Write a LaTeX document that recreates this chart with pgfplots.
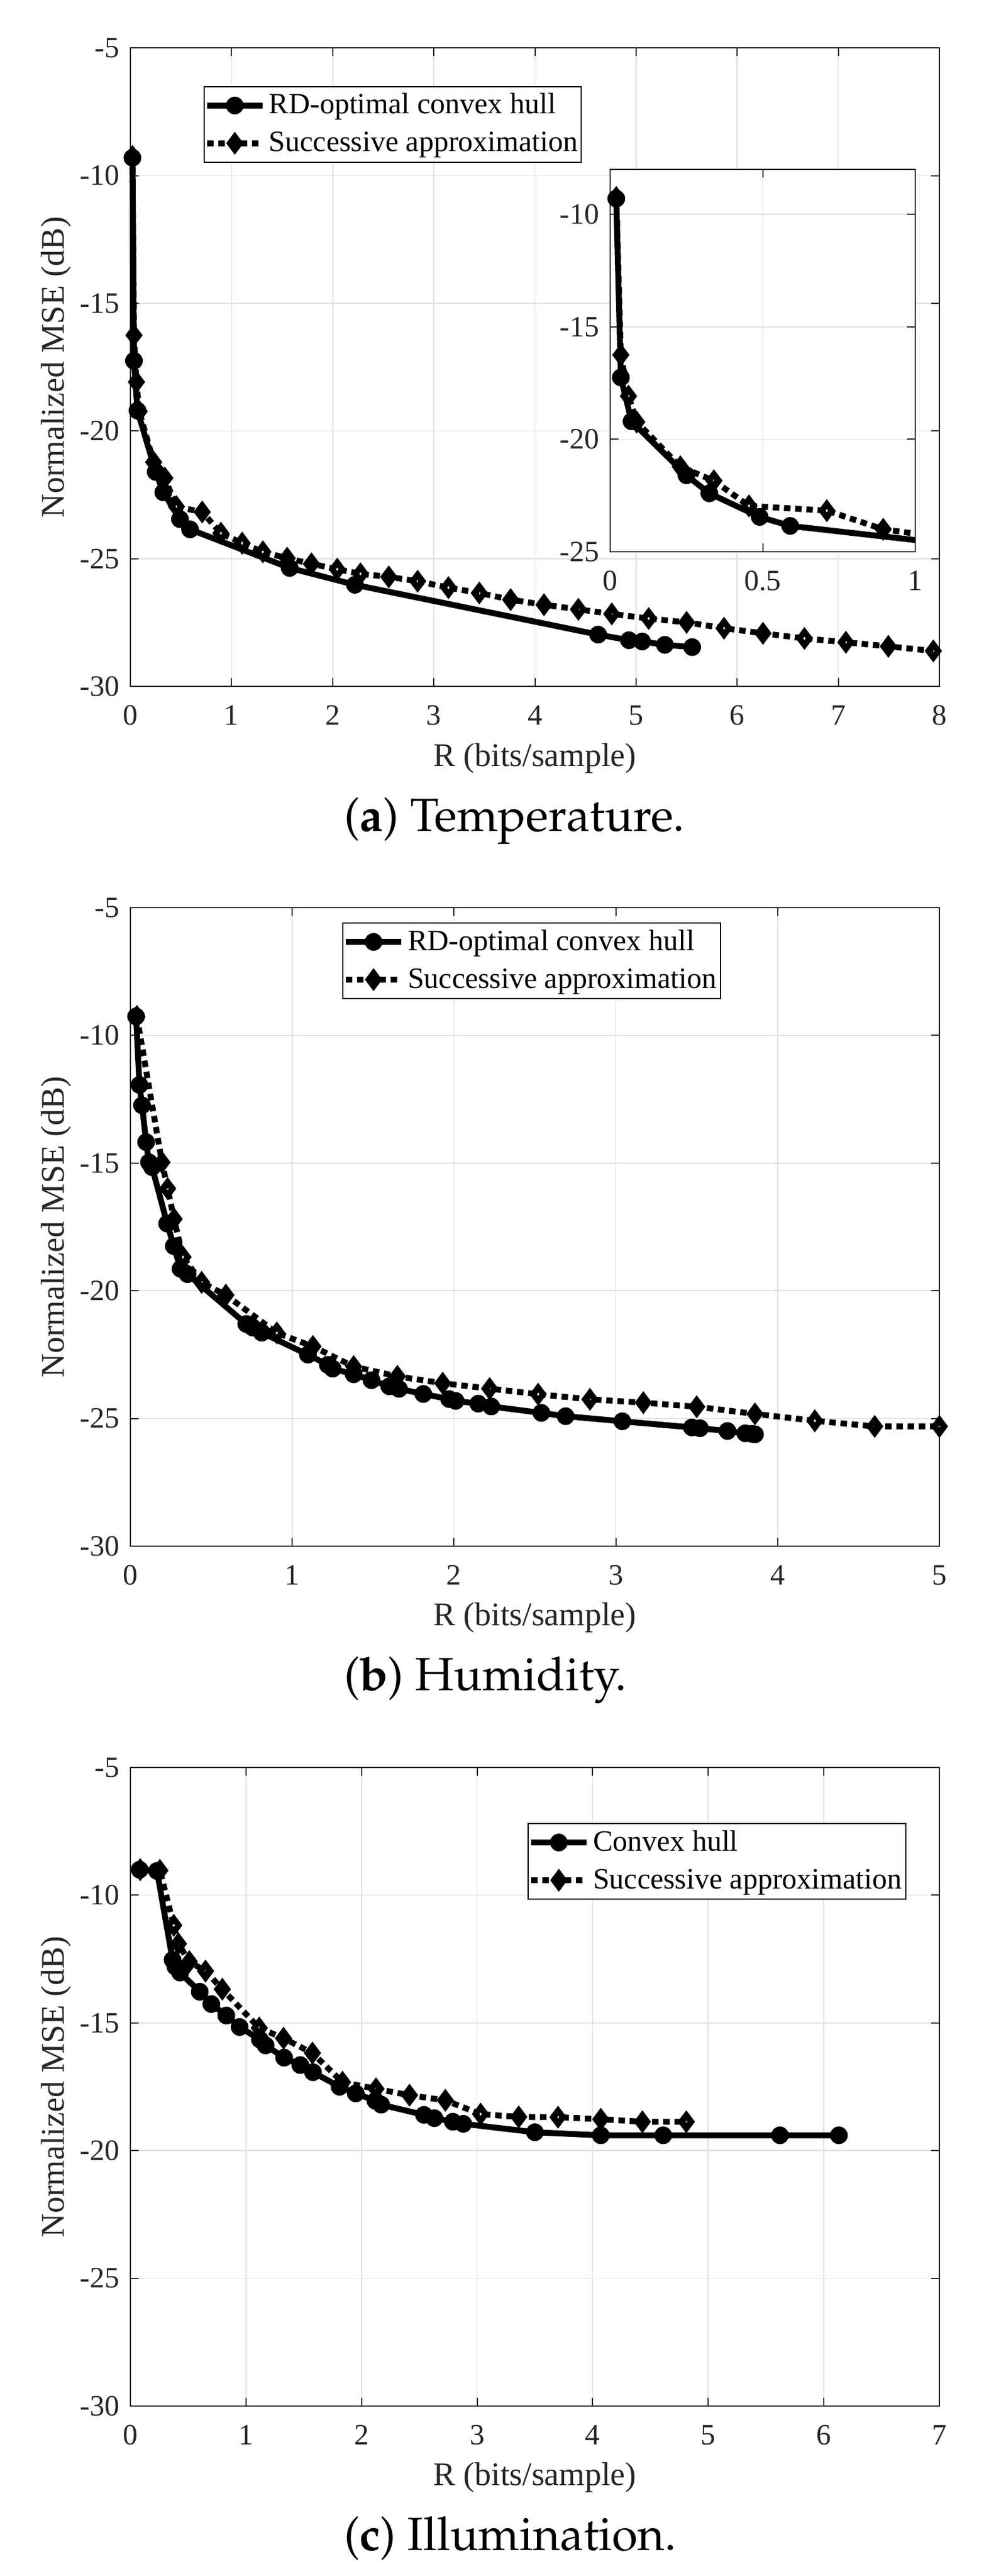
\documentclass[border=0pt]{standalone}
\usepackage[T1,TU]{fontenc}
\usepackage{fontspec}
\setmainfont{Liberation Serif}
\usepackage{pgfplots}
\pgfplotsset{compat=1.18}
\definecolor{axgray}{HTML}{262626}
\definecolor{gridgray}{HTML}{DFDFDF}
\newcommand{\capfont}{\fontencoding{T1}\fontfamily{ppl}\fontsize{19.75}{23}\selectfont}
\pgfplotsset{
  common/.style={
    scale only axis,
    grid=major, major grid style={gridgray, line width=0.4pt},
    axis line style={axgray, line width=0.5pt},
    tick style={axgray, line width=0.5pt},
    major tick length=3.5pt, tick align=inside,
    ticklabel style={font=\fontsize{12.5}{15}\selectfont, text=axgray},
    xticklabel style={anchor=base, yshift=-16.4pt},
    yticklabel style={anchor=east, inner sep=0pt, xshift=-4.5pt},
  },
  mainax/.style={
    common,
    width=342.75pt, height=270.5pt,
    ymin=-30, ymax=-5, ytick={-30,-25,-20,-15,-10,-5},
    yticklabels={-30,-25,-20,-15,-10,-5},
    label style={font=\fontsize{14}{17}\selectfont, text=axgray},
    xlabel={R (bits/sample)},
    ylabel={Normalized MSE (dB)},
    xlabel style={at={(axis description cs:0.5,-0.1246)}, anchor=base},
    ylabel style={at={(axis description cs:-0.08242,0.5)}, anchor=base, rotate=0},
    clip=false,
    legend style={draw=black, line width=0.5pt, fill=white, inner sep=0pt,
      font=\fontsize{12.5}{15}\selectfont, text=black, anchor=north west,
      row sep=0pt,
      nodes={inner xsep=1.5pt, inner ysep=1pt, text height=10.5pt, text depth=3.5pt}},
    legend cell align=left,
    legend image code/.code={\draw[##1, mark repeat=2, mark phase=2] plot coordinates {(0pt,0pt) (11.75pt,0pt) (23.5pt,0pt)};},
  },
  solidser/.style={black, line width=2.5pt, line join=round, mark=*, mark size=3.5pt,
    mark options={solid, fill=black, line width=0.5pt}},
  dotser/.style={black, line width=2.5pt, dash pattern=on 2.75pt off 2pt, line join=round,
    mark=diamond, mark size=2.8pt,
    mark options={solid, fill=white, draw=black, line width=2.5pt, line join=miter}},
}
\begin{document}
\begin{tikzpicture}
\path[use as bounding box] (0pt,0pt) rectangle (419pt,-1091.25pt);
% ---------------- (a) Temperature
\begin{axis}[mainax, at={(55.25pt,-290.8pt)}, anchor=south west,
  xmin=0, xmax=8, xtick={0,1,2,3,4,5,6,7,8}, xticklabels={0,1,2,3,4,5,6,7,8},
  legend style={at={(0.0904,0.9403)}}]
\addplot[solidser] coordinates {
(0.02,-9.3) (0.035,-17.25) (0.07,-19.2) (0.25,-21.6) (0.325,-22.4) (0.49,-23.45)
(0.59,-23.85) (1.575,-25.36) (2.22,-26.02) (4.625,-27.97) (4.93,-28.19) (5.06,-28.24)
(5.285,-28.37) (5.555,-28.46)};
\addplot[dotser] coordinates {
(0.02,-9.25) (0.035,-16.25) (0.06,-18.08) (0.087,-19.23) (0.23,-21.22) (0.34,-21.84)
(0.455,-22.96) (0.71,-23.17) (0.895,-24.0) (1.105,-24.39) (1.31,-24.73) (1.55,-24.98)
(1.79,-25.2) (2.045,-25.41) (2.275,-25.59) (2.555,-25.71) (2.84,-25.88) (3.145,-26.13)
(3.45,-26.34) (3.76,-26.6) (4.09,-26.8) (4.43,-26.98) (4.76,-27.16) (5.125,-27.34)
(5.5,-27.49) (5.87,-27.72) (6.255,-27.92) (6.665,-28.12) (7.075,-28.27) (7.495,-28.43)
(7.94,-28.61)};
\legend{RD-optimal convex hull, Successive approximation}
\end{axis}
% inset
\begin{axis}[common, at={(258.5pt,-233.75pt)}, anchor=south west,
  width=129.25pt, height=162pt,
  xmin=0, xmax=1, ymin=-25, ymax=-8,
  xtick={0,0.5,1}, xticklabels={0,0.5,1},
  ytick={-25,-20,-15,-10}, yticklabels={-25,-20,-15,-10},
  axis background/.style={fill=white}]
\addplot[solidser] coordinates {
(0.02,-9.3) (0.035,-17.25) (0.07,-19.2) (0.25,-21.6) (0.325,-22.4) (0.49,-23.45)
(0.59,-23.85) (1.575,-25.36)};
\addplot[dotser] coordinates {
(0.02,-9.25) (0.035,-16.25) (0.06,-18.08) (0.087,-19.23) (0.23,-21.22) (0.34,-21.84)
(0.455,-22.96) (0.71,-23.17) (0.895,-24.0) (1.105,-24.39)};
\end{axis}
\node[anchor=base west, inner sep=0pt] at (145.6pt,-352pt) {\capfont(\textbf{a})\ Temperature.};
% ---------------- (b) Humidity
\begin{axis}[mainax, at={(55.25pt,-655pt)}, anchor=south west,
  xmin=0, xmax=5, xtick={0,1,2,3,4,5}, xticklabels={0,1,2,3,4,5},
  legend style={at={(0.2619,0.9769)}}]
\addplot[solidser] coordinates {
(0.035,-9.26) (0.056,-11.94) (0.072,-12.74) (0.097,-14.18) (0.115,-14.97) (0.134,-15.16)
(0.227,-17.37) (0.268,-18.25) (0.31,-19.14) (0.353,-19.35) (0.716,-21.3) (0.756,-21.44)
(0.812,-21.64) (1.097,-22.5) (1.22,-22.9) (1.25,-23.05) (1.38,-23.27) (1.49,-23.5)
(1.60,-23.74) (1.66,-23.84) (1.81,-24.04) (1.97,-24.24) (2.01,-24.31) (2.15,-24.42)
(2.23,-24.53) (2.54,-24.78) (2.69,-24.91) (3.04,-25.11) (3.47,-25.35) (3.52,-25.38)
(3.69,-25.49) (3.80,-25.58) (3.84,-25.6) (3.86,-25.62)};
\addplot[dotser] coordinates {
(0.04,-9.26) (0.195,-14.97) (0.23,-16.0) (0.27,-17.19) (0.325,-18.68) (0.44,-19.67)
(0.59,-20.17) (0.905,-21.65) (1.128,-22.18) (1.38,-22.97) (1.65,-23.35) (1.93,-23.62)
(2.22,-23.83) (2.52,-24.05) (2.84,-24.25) (3.17,-24.38) (3.5,-24.54) (3.86,-24.82)
(4.23,-25.09) (4.60,-25.31) (5.0,-25.31)};
\legend{RD-optimal convex hull, Successive approximation}
\end{axis}
\node[anchor=base west, inner sep=0pt] at (145.6pt,-716.2pt) {\capfont(\textbf{b})\ Humidity.};
% ---------------- (c) Illumination
\begin{axis}[mainax, at={(55.25pt,-1019.25pt)}, anchor=south west,
  xmin=0, xmax=7, xtick={0,1,2,3,4,5,6,7}, xticklabels={0,1,2,3,4,5,6,7},
  legend style={at={(0.4909,0.9131)}}]
\addplot[solidser] coordinates {
(0.08,-9.0) (0.23,-9.05) (0.365,-12.53) (0.39,-12.8) (0.43,-13.03) (0.60,-13.78)
(0.70,-14.26) (0.83,-14.71) (0.945,-15.16) (1.12,-15.65) (1.17,-15.88) (1.33,-16.36)
(1.47,-16.65) (1.58,-16.93) (1.81,-17.5) (1.95,-17.76) (2.12,-18.05) (2.17,-18.2)
(2.54,-18.6) (2.63,-18.73) (2.79,-18.87) (2.88,-18.95) (3.50,-19.28) (4.07,-19.40)
(4.61,-19.40) (5.62,-19.40) (6.13,-19.40)};
\addplot[dotser] coordinates {
(0.085,-9.0) (0.255,-9.03) (0.375,-11.18) (0.415,-11.9) (0.51,-12.6) (0.65,-12.97)
(0.795,-13.68) (1.115,-15.2) (1.325,-15.6) (1.575,-16.18) (1.835,-17.32) (2.125,-17.58)
(2.415,-17.83) (2.725,-18.03) (3.03,-18.57) (3.36,-18.68) (3.70,-18.69) (4.07,-18.77)
(4.43,-18.87) (4.81,-18.87)};
\legend{Convex hull, Successive approximation}
\end{axis}
\node[anchor=base west, inner sep=0pt] at (145.6pt,-1080.4pt) {\capfont(\textbf{c})\ Illumination.};
\end{tikzpicture}
\end{document}
